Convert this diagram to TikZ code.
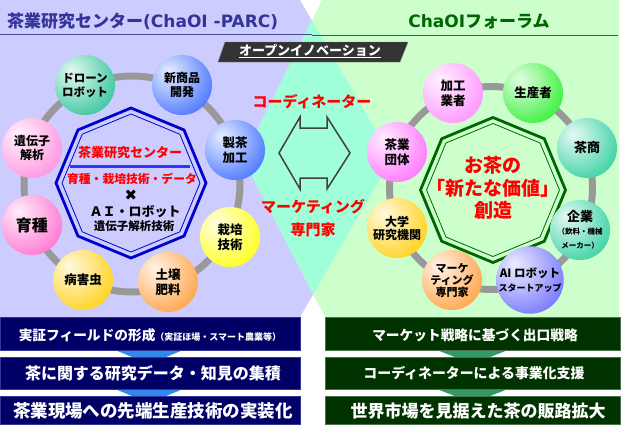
\documentclass[tikz,border=0pt]{standalone}
\usepackage{fontspec}
\setmainfont{Noto Sans CJK JP}
\newfontfamily\lat{DejaVu Sans}
\usetikzlibrary{shapes.geometric}
\definecolor{lav}{HTML}{CCCCFF}
\definecolor{grn}{HTML}{CCFFCC}
\definecolor{mint}{HTML}{A0FFD8}
\definecolor{titleblue}{HTML}{333399}
\definecolor{titlegreen}{HTML}{006600}
\definecolor{barblue}{HTML}{000066}
\definecolor{bargreen}{HTML}{003300}
\definecolor{wedgeblue}{HTML}{3388EE}
\definecolor{wedgegreen}{HTML}{339966}
\definecolor{octblue}{HTML}{0000CC}
\definecolor{octgreen}{HTML}{006600}
\definecolor{redtxt}{HTML}{FF0000}
\definecolor{bteal}{HTML}{20C090}
\definecolor{bblue}{HTML}{3366FF}
\definecolor{byellow}{HTML}{FFFF00}
\definecolor{borange}{HTML}{FF9933}
\definecolor{bgold}{HTML}{FFCC00}
\definecolor{bpink}{HTML}{FF66CC}
\definecolor{bpinkl}{HTML}{FF88DD}
\definecolor{bviolet}{HTML}{FF88FF}
\definecolor{bgreen}{HTML}{22EE22}
\definecolor{bsea}{HTML}{22CC99}
\definecolor{bpurple}{HTML}{6666FF}
\definecolor{bmagenta}{HTML}{FF66FF}
\colorlet{ballc}{red}
\pgfdeclareradialshading[ballc]{myball}{\pgfpoint{-12bp}{12bp}}{color(0bp)=(ballc!12!white); color(14bp)=(ballc!40!white); color(34bp)=(ballc!85!white); color(48bp)=(ballc); color(66bp)=(ballc!85!black); color(80bp)=(ballc!80!black)}
\tikzset{
  ballfill/.code={\colorlet{ballc}{#1}\tikzset{shade,shading=myball}},
  ball/.style={circle, minimum size=60pt, inner sep=0pt, align=center,
    font=\bfseries\fontsize{12}{14}\selectfont, ballfill=#1},
  octa/.style={regular polygon, regular polygon sides=8, shape border rotate=22.5, inner sep=0pt},
  bartxt/.style={text=white, font=\bfseries, inner sep=0pt, align=center},
  barL/.style={rectangle, fill=barblue, draw=titleblue, line width=0.6pt, minimum width=300pt, inner sep=0pt},
  barR/.style={rectangle, fill=bargreen, draw=bargreen!70!white, line width=0.6pt, minimum width=295pt, inner sep=0pt},
  redlbl/.style={text=redtxt, font=\bfseries\fontsize{15}{17}\selectfont, inner sep=0pt},
  ring/.style={draw=gray!80, line width=7pt}
}
\begin{document}
\begin{tikzpicture}[x=1pt,y=-1pt]
\useasboundingbox (0,0) rectangle (622,424);
\fill[white] (0,0) rectangle (622,424);
% panels
\coordinate (p1) at (300,0);
\coordinate (p2) at (392,158.5);
\coordinate (p3) at (300,317);
\coordinate (q1) at (322,0);
\coordinate (q2) at (243,158.5);
\coordinate (q3) at (325,317);
\fill[lav] (0,0) -- (p1) -- (p2) -- (p3) -- (0,317) -- cycle;
\fill[grn] (q1) -- (619,0) -- (619,317) -- (q3) -- (q2) -- cycle;
\fill[mint] (intersection of p1--p2 and q1--q2) -- (p2) -- (intersection of p2--p3 and q2--q3) -- (q2) -- cycle;
% titles
\draw[titleblue!70!gray, line width=1pt] (0,34) -- (312,34);
\draw[titlegreen!70!gray, line width=1pt] (312,35) -- (618,35);
\node[anchor=west, text=titleblue, inner sep=0pt, font=\bfseries\fontsize{17}{20}\selectfont] (tl) at (7,21) {茶業研究センター{\lat(ChaOI -PARC)}};
\node[text=titlegreen, inner sep=0pt, font=\bfseries\fontsize{17}{20}\selectfont] (tr) at (479,21) {{\lat ChaOI}フォーラム};
% open innovation label
\fill[black!80, draw=gray] (218,62) -- (225,42) -- (408,42) -- (400,62) -- cycle;
\node[text=white, inner sep=0pt, font=\bfseries\fontsize{13}{15}\selectfont] (oi) at (310,51) {\underline{オープンイノベーション}};
% central arrow
\draw[black!75, line width=1.5pt, line join=miter] (279,153) -- (300,117) -- (300,128) -- (327,128) -- (327,117) -- (350,153) -- (327,189) -- (327,178) -- (300,178) -- (300,189) -- cycle;
\node[redlbl] (coord) at (312,102) {コーディネーター};
\node[redlbl] (mkt) at (313,207) {マーケティング};
\node[redlbl] (sen) at (313,230) {専門家};
% rings
\draw[ring] (132,184) circle (108);
\draw[ring] (491,188) circle (101.5);
% left octagon
\node[octa, draw=octblue, line width=2.8pt, minimum size=150pt] (octL) at (131,183) {};
\node[octa, draw=octblue, line width=0.8pt, minimum size=138pt] (octLi) at (octL.center) {};
\node[text=redtxt, inner sep=0pt, font=\bfseries\fontsize{13}{15}\selectfont] (cl1) at (130,153) {茶業研究センター};
\draw[draw=blue!80!white, line width=3pt] (70,166) -- (190,166);
\node[text=redtxt, inner sep=0pt, font=\bfseries\fontsize{11.8}{14}\selectfont] (cl2) at (132,179) {育種・栽培技術・データ};
\node[inner sep=0pt, font=\lat\fontsize{15}{16}\selectfont] (cl3) at (131,195) {✖};
\node[inner sep=0pt, font=\bfseries\fontsize{13}{15}\selectfont] (cl4) at (135,212) {ＡＩ・ロボット};
\node[inner sep=0pt, font=\bfseries\fontsize{11.5}{13}\selectfont] (cl5) at (134,226) {遺伝子解析技術};
% right octagon
\node[octa, draw=octgreen, line width=2.8pt, minimum size=145pt] (octR) at (493,190) {};
\node[octa, draw=octgreen, line width=0.8pt, minimum size=133pt] (octRi) at (octR.center) {};
\node[text=redtxt, inner sep=0pt, align=center, font=\bfseries\fontsize{19}{22.5}\selectfont] (cr) at (493,188) {お茶の\\「新たな価値」\\創造};
% left circles
\node[ball=bteal, font=\bfseries\fontsize{11.5}{14}\selectfont] (c1) at (85,85) {ドローン\\ロボット};
\node[ball=bblue] (c2) at (182,85) {新商品\\開発};
\node[ball=bblue, font=\bfseries\fontsize{12.5}{15}\selectfont] (c3) at (235,150) {製茶\\加工};
\node[ball=byellow, font=\bfseries\fontsize{12.5}{15}\selectfont] (c4) at (230,237) {栽培\\技術};
\node[ball=borange, font=\bfseries\fontsize{12.5}{15}\selectfont] (c5) at (168,282) {土壌\\肥料};
\node[ball=bgold, font=\bfseries\fontsize{12.5}{15}\selectfont] (c6) at (83,280) {病害虫};
\node[ball=bpink, font=\bfseries\fontsize{16}{18}\selectfont] (c7) at (32,225) {育種};
\node[ball=bpinkl] (c8) at (32,148) {遺伝子\\解析};
% right circles
\node[ball=bviolet, font=\bfseries\fontsize{12.5}{15}\selectfont] (d1) at (453,93) {加工\\業者};
\node[ball=bgreen, font=\bfseries\fontsize{12.5}{15}\selectfont] (d2) at (533,93) {生産者};
\node[ball=bsea, font=\bfseries\fontsize{13}{15}\selectfont] (d3) at (587,148) {茶商};
\node[ball=bsea] (d4) at (580,230) {{\fontsize{13}{15}\selectfont 企業}\\[-1pt]{\fontsize{7.5}{9}\selectfont （飲料・機械}\\{\fontsize{7.5}{9}\selectfont メーカー）}};
\node[ball=bpurple] (d5) at (530,280) {{\fontsize{11.5}{13}\selectfont AI ロボット}\\{\fontsize{9}{11}\selectfont スタートアップ}};
\node[ball=borange, font=\bfseries\fontsize{11}{12}\selectfont] (d6) at (452,280) {マーケ\\ティング\\専門家};
\node[ball=bgold, font=\bfseries\fontsize{12}{13}\selectfont] (d7) at (397,228) {大学\\研究機関};
\node[ball=bmagenta, font=\bfseries\fontsize{12.5}{15}\selectfont] (d8) at (397,152) {茶業\\団体};
% wedges between bars
\fill[wedgeblue] (115,350) -- (183,350) -- (149,364) -- cycle;
\fill[wedgeblue] (115,389) -- (183,389) -- (149,403) -- cycle;
\fill[wedgegreen] (437,350) -- (508,350) -- (472.5,364) -- cycle;
\fill[wedgegreen] (437,389) -- (508,389) -- (472.5,403) -- cycle;
% bars left
\node[barL, minimum height=33pt] (bl1) at (150,334) {};
\node[bartxt, font=\bfseries\fontsize{13.7}{16}\selectfont] (tl1) at (150,335) {実証フィールドの形成{\fontsize{9}{10}\selectfont （実証ほ場・スマート農業等）}};
\node[barL, minimum height=32pt] (bl2) at (150,373) {};
\node[bartxt, font=\bfseries\fontsize{16}{18}\selectfont] (tl2) at (153,373) {茶に関する研究データ・知見の集積};
\node[barL, minimum height=28pt] (bl3) at (150,410) {};
\node[bartxt, font=\bfseries\fontsize{17.5}{19}\selectfont] (tl3) at (153,411) {茶業現場への先端生産技術の実装化};
% bars right
\node[barR, minimum height=33pt] (br1) at (472.5,334) {};
\node[bartxt, font=\bfseries\fontsize{13.7}{16}\selectfont] (tr1) at (475,335) {マーケット戦略に基づく出口戦略};
\node[barR, minimum height=32pt] (br2) at (472.5,373) {};
\node[bartxt, font=\bfseries\fontsize{13.9}{16}\selectfont] (tr2) at (474,373) {コーディネーターによる事業化支援};
\node[barR, minimum height=28pt] (br3) at (472.5,410) {};
\node[bartxt, font=\bfseries\fontsize{17}{19}\selectfont] (tr3) at (478,411) {世界市場を見据えた茶の販路拡大};
\end{tikzpicture}
\end{document}
